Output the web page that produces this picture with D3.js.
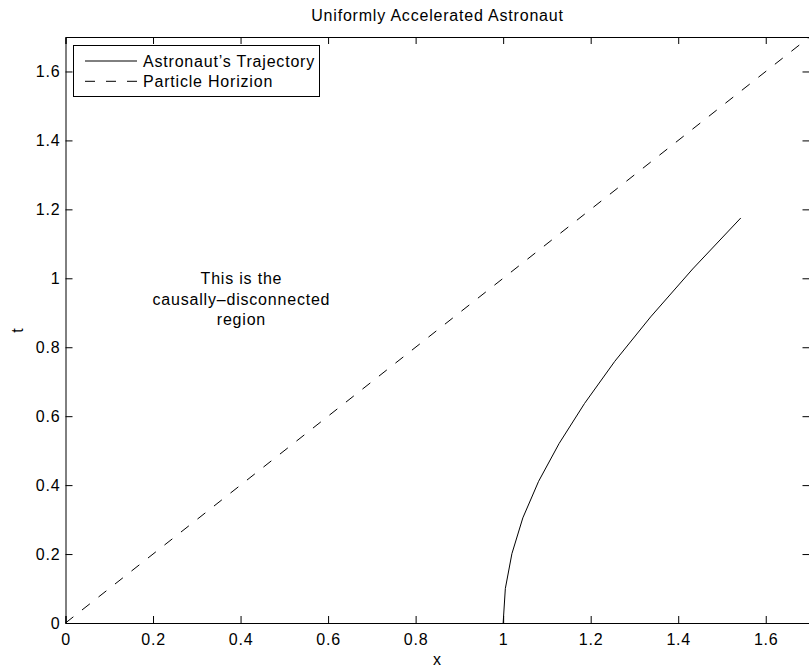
<!DOCTYPE html>
<html>
<head>
<meta charset="utf-8">
<script src="https://cdn.jsdelivr.net/npm/d3@7"></script>
<style>
  body { margin: 0; background: #fff; }
  svg { display: block; font-family: "Liberation Sans", Arial, Helvetica, sans-serif; }
  svg text { font-size: 16px; letter-spacing: 0.8px; fill: #000; }
</style>
</head>
<body>
<svg id="chart" width="809" height="671"></svg>
<script>
// astronaut world line (x, t), sampled along the trajectory
const trajX = [1.000, 1.005, 1.020, 1.045, 1.081, 1.128, 1.186, 1.255, 1.337, 1.433, 1.543];
const trajT = [0.000, 0.100, 0.201, 0.305, 0.411, 0.521, 0.637, 0.759, 0.888, 1.027, 1.175];
// particle horizon endpoints
const horizonX = [0, 1.7];
const horizonT = [0, 1.7];
const xTicks = [0, 0.2, 0.4, 0.6, 0.8, 1, 1.2, 1.4, 1.6];
const yTicks = [0, 0.2, 0.4, 0.6, 0.8, 1, 1.2, 1.4, 1.6];
const legendLabels = ["Astronaut\u2019s Trajectory", "Particle Horizion"];
const noteLines = ["This is the", "causally\u2013disconnected", "region"];

const svg = d3.select("#chart");
const mLeft = 65.5, mRight = 809.5, mTop = 37, mBottom = 623;

const x = d3.scaleLinear().domain([0, 1.7]).range([mLeft, mRight]);
const y = d3.scaleLinear().domain([0, 1.7]).range([mBottom, mTop]);

svg.append("text").attr("x", (mLeft + mRight) / 2).attr("y", 21).attr("text-anchor", "middle")
    .text("Uniformly Accelerated Astronaut");

// axes (ticks point inward, box style)
const tickLen = 7;
const gx = svg.append("g").attr("transform", `translate(0,${mBottom})`)
    .call(d3.axisBottom(x).tickValues(xTicks).tickSize(-tickLen).tickPadding(10.5).tickFormat(d3.format("")));
const gxTop = svg.append("g").attr("transform", `translate(0,${mTop})`)
    .call(d3.axisTop(x).tickValues(xTicks).tickSize(-tickLen).tickFormat(""));
const gy = svg.append("g").attr("transform", `translate(${mLeft},0)`)
    .call(d3.axisLeft(y).tickValues(yTicks).tickSize(-tickLen).tickPadding(5).tickFormat(d3.format("")));
const gyRight = svg.append("g").attr("transform", `translate(${mRight},0)`)
    .call(d3.axisRight(y).tickValues(yTicks).tickSize(-tickLen).tickFormat(""));

[gx, gxTop, gy, gyRight].forEach(g => {
    g.attr("font-size", null).attr("font-family", null);
    g.select(".domain").attr("stroke", "#000").attr("stroke-width", 1);
    g.selectAll(".tick line").attr("stroke", "#000");
    g.selectAll("text").attr("fill", "#000");
});

svg.append("text").attr("x", x(0.85)).attr("y", 665).attr("text-anchor", "middle").text("x");
svg.append("text").attr("transform", `translate(23,${y(0.85)}) rotate(-90)`).attr("text-anchor", "middle").text("t");

const line = d3.line().x(d => x(d[0])).y(d => y(d[1]));

svg.append("path").datum(horizonX.map((v, i) => [v, horizonT[i]]))
    .attr("d", line).attr("fill", "none").attr("stroke", "#000").attr("stroke-width", 1)
    .attr("stroke-dasharray", "10,11");

svg.append("path").datum(trajX.map((v, i) => [v, trajT[i]]))
    .attr("d", line).attr("fill", "none").attr("stroke", "#000").attr("stroke-width", 1);

// annotation
svg.append("text").attr("text-anchor", "middle")
    .selectAll("tspan").data(noteLines).join("tspan")
    .attr("x", x(0.402)).attr("y", (d, i) => 284 + i * 20.7).text(d => d);

// legend
const leg = svg.append("g");
leg.append("rect").attr("x", 73.5).attr("y", 45.5).attr("width", 246).attr("height", 51)
    .attr("fill", "#fff").attr("stroke", "#000");
legendLabels.forEach((lab, i) => {
    const ly = 61 + i * 20.3;
    leg.append("line").attr("x1", 85).attr("x2", 137).attr("y1", ly).attr("y2", ly)
        .attr("stroke", "#000").attr("stroke-dasharray", i === 1 ? "10,11" : null);
    leg.append("text").attr("x", 143).attr("y", ly + 6).text(lab);
});
</script>
</body>
</html>
